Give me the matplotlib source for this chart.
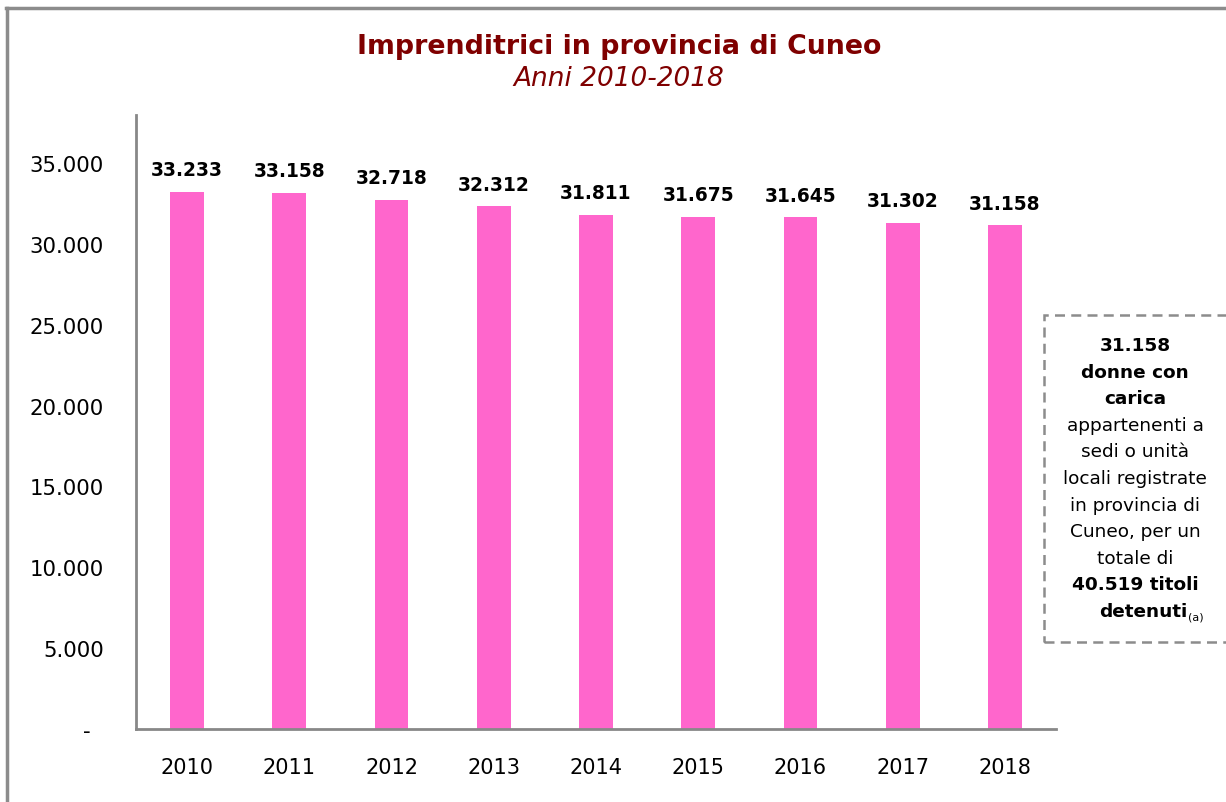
import matplotlib.pyplot as plt
from matplotlib.patches import Rectangle
from matplotlib.lines import Line2D

anni = ["2010", "2011", "2012", "2013", "2014", "2015", "2016", "2017", "2018"]
imprenditrici = [33233, 33158, 32718, 32312, 31811, 31675, 31645, 31302, 31158]
yticks = [0, 5000, 10000, 15000, 20000, 25000, 30000, 35000]
ytick_labels = ["-  ", "5.000", "10.000", "15.000", "20.000", "25.000", "30.000", "35.000"]

W, H = 1226, 803
plt.rcParams['font.family'] = ['DejaVu Sans']
fig = plt.figure(figsize=(W / 100, H / 100), dpi=100)


def px(x, y):
    """pixel coords (top-left origin) -> figure fraction"""
    return x / W, 1 - y / H


ax = fig.add_axes([136 / W, 1 - 730 / H, (1056 - 136) / W, (730 - 116) / H])
x = range(len(anni))
ax.bar(x, imprenditrici, width=0.33, color="#FF66CC")
for i, v in enumerate(imprenditrici):
    ax.annotate(f"{v:,}".replace(",", "."), (i, v), xytext=(0, 9),
                textcoords="offset points", ha="center", va="bottom",
                fontsize=13.4, fontweight="bold")

ax.set_xlim(-0.5, len(anni) - 0.5)
ax.set_ylim(0, 37970)
ax.set_xticks(list(x))
ax.set_xticklabels(anni, fontsize=15)
ax.set_yticks(yticks)
ax.set_yticklabels(ytick_labels, fontsize=15.3)
ax.tick_params(axis="y", length=0, pad=23)
ax.tick_params(axis="x", length=0, pad=20)
for s in ["top", "right"]:
    ax.spines[s].set_visible(False)
for s in ["left", "bottom"]:
    ax.spines[s].set_color("#888888")
    ax.spines[s].set_linewidth(2)

# titolo
fig.text(*px(619, 47), "Imprenditrici in provincia di Cuneo", ha="center",
         va="center", fontsize=19.3, fontweight="bold", color="#7F0000")
fig.text(*px(619, 79), "Anni 2010-2018", ha="center", va="center",
         fontsize=19, style="italic", color="#7F0000")

# bordo esterno
fig.add_artist(Line2D([7 / W, 7 / W], [0, 1 - 9 / H], transform=fig.transFigure,
                      color="#8c8c8c", lw=2.5))
fig.add_artist(Line2D([6 / W, 1], [1 - 9 / H, 1 - 9 / H], transform=fig.transFigure,
                      color="#8c8c8c", lw=2.5))

# riquadro
x0, y0 = px(1044, 643)
fig.add_artist(Rectangle((x0, y0), 200 / W, (643 - 316) / H, transform=fig.transFigure,
                         fill=False, edgecolor="#8c8c8c", lw=1.8, linestyle=(0, (4, 2.5))))
righe = [("31.158", "bold"), ("donne con", "bold"), ("carica", "bold"),
         ("appartenenti a", "normal"), ("sedi o unità", "normal"),
         ("locali registrate", "normal"), ("in provincia di", "normal"),
         ("Cuneo, per un", "normal"), ("totale di", "normal"),
         ("40.519 titoli", "bold")]
for k, (t, w) in enumerate(righe):
    fig.text(*px(1135, 346 + k * 26.6), t, ha="center", va="center",
             fontsize=13.3, fontweight=w)
fig.text(*px(1187, 612), "detenuti", ha="right", va="center", fontsize=13.3,
         fontweight="bold")
fig.text(*px(1188, 618), "(a)", ha="left", va="center", fontsize=8)

fig.savefig("out.png", dpi=100)
